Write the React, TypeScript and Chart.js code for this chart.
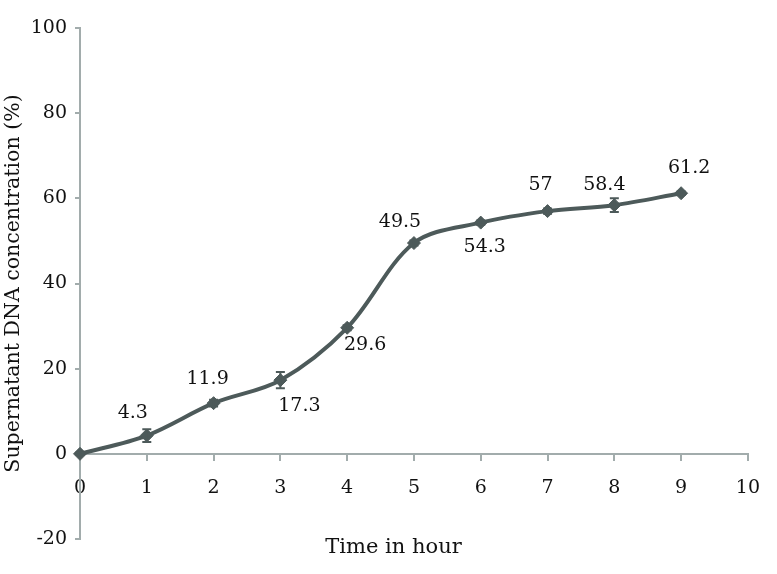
import React, { useEffect, useRef } from 'react';
import { Chart, registerables } from 'chart.js';

Chart.register(...registerables);

// ---- data ----
const hours = [0, 1, 2, 3, 4, 5, 6, 7, 8, 9];
const concentration = [0, 4.3, 11.9, 17.3, 29.6, 49.5, 54.3, 57, 58.4, 61.2];
const errorBars = [0.3, 1.5, 0.8, 1.9, 0.6, 0.6, 0.5, 0.6, 1.6, 0.4];
const pointLabels = ['', '4.3', '11.9', '17.3', '29.6', '49.5', '54.3', '57', '58.4', '61.2'];
const xAxisTitle = 'Time in hour';
const yAxisTitle = 'Supernatant DNA concentration (%)';

// ---- styling (label placement relative to each point, in px) ----
const labelOffsets: [number, number][] = [
  [0, 0], [-14, -22], [-6, -24], [19, 26], [18, 17], [-14, -21], [4, 24], [-7, -26], [-10, -20], [8, -25],
];
const LINE = '#4d5a5a';
const AXIS = '#a2acac';
const TEXT = '#111111';
const FONT = 'DejaVu Serif';

const overlay = {
  id: 'overlay',
  afterDatasetsDraw(chart: any) {
    const { ctx, scales, chartArea } = chart;
    const x = scales.x;
    const y = scales.y;
    ctx.save();
    // error bars
    ctx.strokeStyle = LINE;
    ctx.lineWidth = 2;
    hours.forEach((h, i) => {
      const e = errorBars[i];
      const px = x.getPixelForValue(h);
      const t = y.getPixelForValue(concentration[i] + e);
      const b = y.getPixelForValue(concentration[i] - e);
      ctx.beginPath();
      ctx.moveTo(px, t);
      ctx.lineTo(px, b);
      ctx.moveTo(px - 4.5, t);
      ctx.lineTo(px + 4.5, t);
      ctx.moveTo(px - 4.5, b);
      ctx.lineTo(px + 4.5, b);
      ctx.stroke();
    });
    // data labels
    ctx.fillStyle = TEXT;
    ctx.font = `19px "${FONT}"`;
    ctx.textAlign = 'center';
    ctx.textBaseline = 'middle';
    hours.forEach((h, i) => {
      if (!pointLabels[i]) return;
      const px = x.getPixelForValue(h);
      const py = y.getPixelForValue(concentration[i]);
      ctx.fillText(pointLabels[i], px + labelOffsets[i][0], py + labelOffsets[i][1]);
    });
    // x-axis title
    ctx.font = `21px "${FONT}"`;
    ctx.fillText(xAxisTitle, chart.width / 2 + 5, chartArea.bottom + 9);
    ctx.restore();
  },
};

export default function App() {
  const ref = useRef<HTMLCanvasElement>(null);

  useEffect(() => {
    if (!ref.current) return;
    const chart = new Chart(ref.current, {
      type: 'line',
      data: {
        datasets: [
          {
            data: hours.map((h, i) => ({ x: h, y: concentration[i] })),
            borderColor: LINE,
            backgroundColor: LINE,
            borderWidth: 4,
            tension: 0.33,
            pointStyle: 'rectRot',
            pointRadius: 6.5,
            pointBackgroundColor: LINE,
            pointBorderColor: LINE,
            pointBorderWidth: 1,
            fill: false,
            clip: false as any,
          },
        ],
      },
      options: {
        responsive: false,
        animation: false,
        layout: { padding: { left: 0, top: 28, right: 28, bottom: 35 } },
        plugins: {
          legend: { display: false },
          tooltip: { enabled: false },
        },
        scales: {
          x: {
            type: 'linear',
            position: { y: 0 } as any,
            min: 0,
            max: 10,
            ticks: {
              stepSize: 1,
              color: TEXT,
              font: { family: FONT, size: 19 },
              padding: 17,
            },
            grid: {
              display: true,
              drawOnChartArea: false,
              drawTicks: true,
              tickLength: 6,
              color: AXIS,
              lineWidth: 2,
            },
            border: { display: true, color: AXIS, width: 2 },
          },
          y: {
            type: 'linear',
            position: 'left',
            min: -20,
            max: 100,
            afterFit: (scale: any) => {
              scale.width = 80;
            },
            ticks: {
              stepSize: 20,
              color: TEXT,
              font: { family: FONT, size: 19 },
              padding: 8,
            },
            grid: {
              display: true,
              drawOnChartArea: false,
              drawTicks: true,
              tickLength: 5,
              color: AXIS,
              lineWidth: 2,
            },
            border: { display: true, color: AXIS, width: 2 },
            title: {
              display: true,
              text: yAxisTitle,
              color: TEXT,
              font: { family: FONT, size: 20.5 },
              padding: { top: 1, bottom: 0 },
            },
          },
        },
      },
      plugins: [overlay],
    });
    return () => chart.destroy();
  }, []);

  return (
    <div style={{ position: 'fixed', left: 0, top: 0, width: 777, height: 574, background: '#fff' }}>
      <canvas ref={ref} width={777} height={574} style={{ display: 'block' }} />
    </div>
  );
}
